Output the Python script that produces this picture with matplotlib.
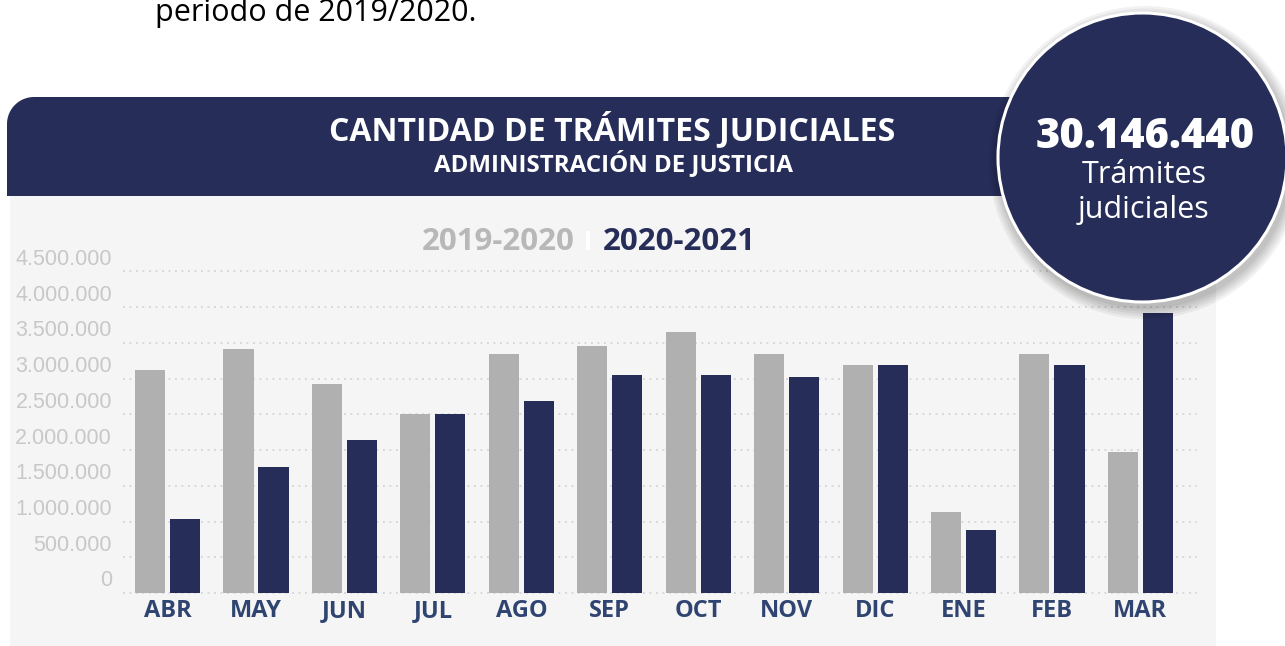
import numpy as np
import matplotlib
matplotlib.use("Agg")
import matplotlib.pyplot as plt
import matplotlib.patches as mpatches
import matplotlib.transforms as mtransforms

# ---------------- data ----------------
months = ["ABR", "MAY", "JUN", "JUL", "AGO", "SEP", "OCT", "NOV", "DIC", "ENE", "FEB", "MAR"]
serie_2019_2020 = [3120000, 3410000, 2920000, 2500000, 3340000, 3450000, 3650000, 3340000, 3190000, 1130000, 3340000, 1970000]
serie_2020_2021 = [1030000, 1760000, 2140000, 2500000, 2690000, 3050000, 3050000, 3020000, 3190000, 880000, 3190000, 3920000]
y_ticks = [0, 500000, 1000000, 1500000, 2000000, 2500000, 3000000, 3500000, 4000000, 4500000]
legend_labels = ["2019-2020", "2020-2021"]
total_text = "30.146.440"

NAVY = "#262d59"
GRAY = "#b0b0b0"
PANEL = "#f5f5f5"
MONTH_C = "#2f4470"
W, H = 1285, 646

fig = plt.figure(figsize=(W / 100, H / 100), dpi=100)
fig.patch.set_facecolor("white")

# ---------------- background decorations (pixel coords) ----------------
bg = fig.add_axes([0, 0, 1, 1], zorder=0)
bg.set_xlim(0, W)
bg.set_ylim(H, 0)
bg.axis("off")

bg.add_patch(mpatches.Rectangle((10, 196), 1206, 452, facecolor=PANEL, edgecolor="none"))

# header band with rounded top-left corner
r = 27
x0, x1, y0, y1 = 7, 1150, 97, 196
theta = np.linspace(np.pi, 1.5 * np.pi, 20)
arc = np.column_stack([x0 + r + r * np.cos(theta), y0 + r + r * np.sin(theta)])
verts = np.vstack([[[x0, y1]], arc, [[x1, y0], [x1, y1], [x0, y1]]])
bg.add_patch(mpatches.Polygon(verts, closed=True, facecolor=NAVY, edgecolor="none"))

bg.text(155, 21, "periodo de 2019/2020.", family="Open Sans", fontsize=22,
        color="black", ha="left", va="baseline")
bg.text(612, 140, "CANTIDAD DE TRÁMITES JUDICIALES", family="Open Sans", fontweight="bold",
        fontsize=23, color="white", ha="center", va="baseline")
bg.text(613, 171, "ADMINISTRACIÓN DE JUSTICIA", family="Open Sans", fontweight="bold",
        fontsize=17.4, color="white", ha="center", va="baseline")

bg.text(422, 250, legend_labels[0], family="Open Sans", fontweight="bold", fontsize=22.5,
        color="#b8b8b8", ha="left", va="baseline")
bg.add_patch(mpatches.Rectangle((586, 231), 4, 19, facecolor="white", edgecolor="none"))
bg.text(603, 250, legend_labels[1], family="Open Sans", fontweight="bold", fontsize=22.5,
        color=NAVY, ha="left", va="baseline")

# ---------------- chart axes ----------------
ax_left, ax_right, ax_bottom, ax_top = 123, 1197, 593, 271.25
ax = fig.add_axes([ax_left / W, (H - ax_bottom) / H, (ax_right - ax_left) / W,
                   (ax_bottom - ax_top) / H], zorder=1)
ax.patch.set_visible(False)

x = np.arange(len(months))
bw = 0.34
off = 0.198
ax.bar(x - off, serie_2019_2020, width=bw, color=GRAY, zorder=2)
ax.bar(x + off, serie_2020_2021, width=bw, color=NAVY, zorder=2)

ax.set_xlim(-0.504, 11.64)
ax.set_ylim(0, 4500000)
ax.set_yticks(y_ticks)
ax.yaxis.grid(True, linestyle=(0, (1, 2.6)), linewidth=1.3, color="#d4d4d4")
ax.set_axisbelow(True)
for gl in ax.get_ygridlines():
    gl.set_clip_on(False)
ax.tick_params(left=False, labelleft=False, bottom=False, length=0)
ax.set_xticks(x, months)
for lab in ax.get_xticklabels():
    lab.set_family("Open Sans")
    lab.set_fontweight("bold")
    lab.set_fontsize(17)
    lab.set_color(MONTH_C)
ax.tick_params(axis="x", pad=4)
for s in ax.spines.values():
    s.set_visible(False)

# y labels, slightly above their grid lines as in the reference
ytrans = ax.get_yaxis_transform() + mtransforms.ScaledTranslation(0, 12 / 100, fig.dpi_scale_trans)
for v in y_ticks:
    ax.text(-11 / (ax_right - ax_left), v, f"{v:,}".replace(",", "."), transform=ytrans,
            family="Liberation Sans", fontsize=15.5, color="#c8c8c8",
            ha="right", va="center")

# ---------------- circle overlay ----------------
ov = fig.add_axes([0, 0, 1, 1], zorder=5)
ov.set_xlim(0, W)
ov.set_ylim(H, 0)
ov.axis("off")
cx, cy, rad = 1142.5, 157.5, 144.5
for i in range(5):
    ov.add_patch(mpatches.Circle((cx + 3, cy + 5), rad + 2 + 2.5 * i, facecolor="black",
                                 edgecolor="none", alpha=0.05))
ov.add_patch(mpatches.Circle((cx, cy), rad, facecolor=NAVY, edgecolor="white", linewidth=2.2))
ov.text(1145, 148, total_text, family="Open Sans", fontweight="heavy", fontsize=30,
        color="white", ha="center", va="baseline")
ov.text(1144, 183, "Trámites", family="Open Sans", fontsize=22, color="white",
        ha="center", va="baseline")
ov.text(1144, 218, "judiciales", family="Open Sans", fontsize=22, color="white",
        ha="center", va="baseline")

fig.savefig("out.png", dpi=100, facecolor=fig.get_facecolor())
